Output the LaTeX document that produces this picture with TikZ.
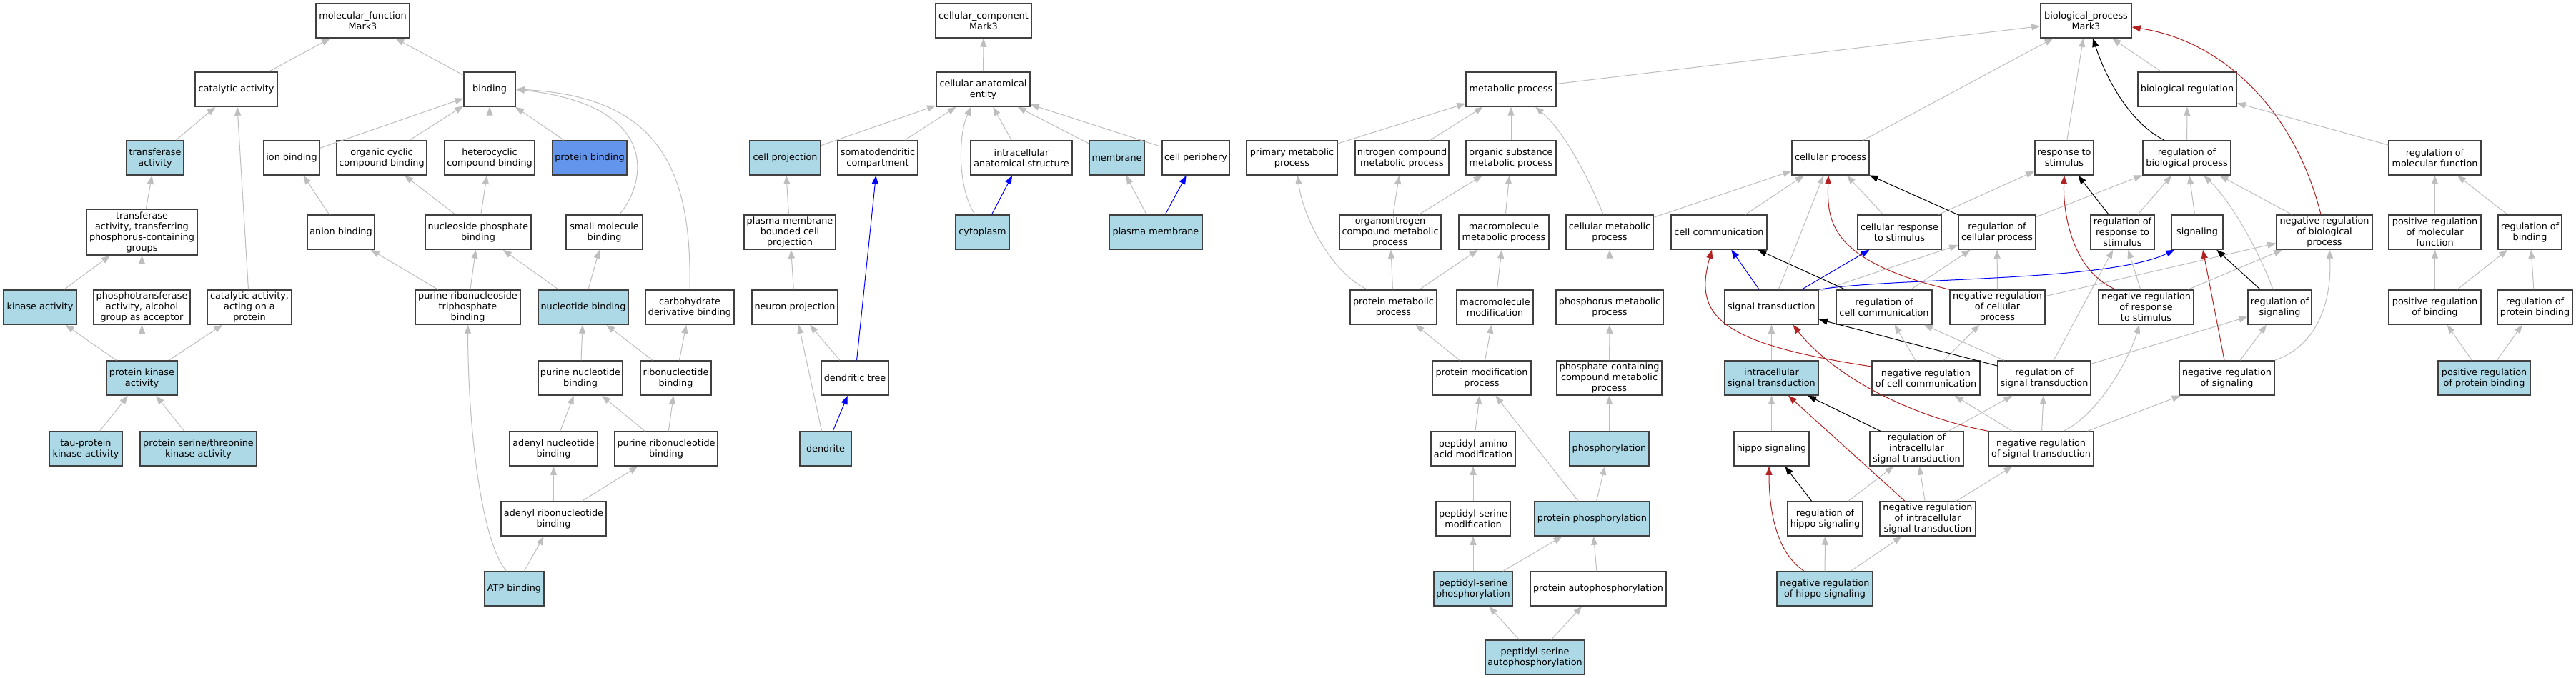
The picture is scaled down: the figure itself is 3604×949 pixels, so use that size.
\documentclass[tikz,border=0pt]{standalone}
\usepackage{fontspec}
\setmainfont{DejaVu Sans}
\usetikzlibrary{arrows.meta}
\definecolor{isagray}{HTML}{BEBEBE}
\definecolor{termblue}{HTML}{ADD8E6}
\definecolor{hitblue}{HTML}{6495ED}
\definecolor{negred}{HTML}{B22222}

\begin{document}
\begin{tikzpicture}[x=1pt, y=-1pt,
    term/.style={draw=black!75, line width=1.5pt, fill=white, inner sep=1pt, align=center,
      minimum height=48, font=\fontsize{12.8}{15}\selectfont},
    hit/.style={term, fill=termblue},
    isa/.style={-{Triangle[length=12pt,width=9pt]}, draw=isagray, line width=1pt},
    partof/.style={isa, draw=blue},
    regul/.style={isa, draw=black},
    negreg/.style={isa, draw=negred}]
    \fill[white] (0,0) rectangle (3604,949);
    \useasboundingbox (0,0) rectangle (3604,949);

    % molecular function
    \node[term, minimum width=131] (mf) at (507.5,29) {molecular\_function\\Mark3};
    \node[term, minimum width=115] (catact) at (330.5,125) {catalytic activity};
    \node[term, minimum width=72] (binding) at (685,125) {binding};
    \node[hit, minimum width=80] (transf) at (217,221) {transferase\\activity};
    \node[term, minimum width=78] (ionb) at (408,221) {ion binding};
    \node[term, minimum width=126] (orgcyc) at (534,221) {organic cyclic\\compound binding};
    \node[term, minimum width=126] (hetcyc) at (685,221) {heterocyclic\\compound binding};
    \node[term, fill=hitblue, minimum width=104] (protb) at (825,221) {protein binding};
    \node[term, minimum width=155, minimum height=64] (transfp) at (198.5,325) {transferase\\activity, transferring\\phosphorus-containing\\groups};
    \node[term, minimum width=94] (anion) at (477,325) {anion binding};
    \node[term, minimum width=148] (nucphos) at (669,325) {nucleoside phosphate\\binding};
    \node[term, minimum width=107] (smallmol) at (845.5,325) {small molecule\\binding};
    \node[hit, minimum width=102] (kinase) at (56,430) {kinase activity};
    \node[term, minimum width=135] (phosph) at (198.5,430) {phosphotransferase\\activity, alcohol\\group as acceptor};
    \node[term, minimum width=118] (catprot) at (349,430) {catalytic activity,\\acting on a\\protein};
    \node[term, minimum width=147] (prnstp) at (654.5,430) {purine ribonucleoside\\triphosphate\\binding};
    \node[hit, minimum width=126] (nucleot) at (816,430) {nucleotide binding};
    \node[term, minimum width=124] (carbo) at (965,430) {carbohydrate\\derivative binding};
    \node[hit, minimum width=99] (pkinase) at (198.5,529) {protein kinase\\activity};
    \node[term, minimum width=118] (purnuc) at (812,529) {purine nucleotide\\binding};
    \node[term, minimum width=99] (ribonuc) at (945.5,529) {ribonucleotide\\binding};
    \node[hit, minimum width=102] (tau) at (120,628) {tau-protein\\kinase activity};
    \node[hit, minimum width=163] (serthr) at (277.5,628) {protein serine/threonine\\kinase activity};
    \node[term, minimum width=123] (adenuc) at (774.5,628) {adenyl nucleotide\\binding};
    \node[term, minimum width=144] (purribo) at (932,628) {purine ribonucleotide\\binding};
    \node[term, minimum width=147] (adenribo) at (774.5,726) {adenyl ribonucleotide\\binding};
    \node[hit, minimum width=83] (atp) at (719.5,824) {ATP binding};

    % cellular component
    \node[term, minimum width=134] (cc) at (1376,29) {cellular\_component\\Mark3};
    \node[term, minimum width=131] (cae) at (1375.5,125) {cellular anatomical\\entity};
    \node[hit, minimum width=99] (cellproj) at (1098.5,221) {cell projection};
    \node[term, minimum width=112] (somato) at (1228,221) {somatodendritic\\compartment};
    \node[term, minimum width=142] (intra) at (1429,221) {intracellular\\anatomical structure};
    \node[hit, minimum width=77] (membrane) at (1562.5,221) {membrane};
    \node[term, minimum width=94] (periph) at (1673,221) {cell periphery};
    \node[term, minimum width=128] (pmbcp) at (1105,325) {plasma membrane\\bounded cell\\projection};
    \node[hit, minimum width=75] (cytopl) at (1374.5,325) {cytoplasm};
    \node[hit, minimum width=130] (plasmem) at (1617,325) {plasma membrane};
    \node[term, minimum width=120] (neuproj) at (1112,430) {neuron projection};
    \node[term, minimum width=94] (dendtree) at (1196,529) {dendritic tree};
    \node[hit, minimum width=72] (dendrite) at (1155,628) {dendrite};

    % biological process
    \node[term, minimum width=127] (bp) at (2918.5,29) {biological\_process\\Mark3};
    \node[term, minimum width=126] (metab) at (2114,125) {metabolic process};
    \node[term, minimum width=138] (bioreg) at (3060,125) {biological regulation};
    \node[term, minimum width=127] (primmet) at (1807.5,221) {primary metabolic\\process};
    \node[term, minimum width=131] (nitro) at (1961.5,221) {nitrogen compound\\metabolic process};
    \node[term, minimum width=126] (orgsub) at (2114,221) {organic substance\\metabolic process};
    \node[term, minimum width=108] (cellproc) at (2561,221) {cellular process};
    \node[term, minimum width=82] (resp) at (2888,221) {response to\\stimulus};
    \node[term, minimum width=123] (regbp) at (3059.5,221) {regulation of\\biological process};
    \node[term, minimum width=129] (regmf) at (3406.5,221) {regulation of\\molecular function};
    \node[term, minimum width=142] (orgnit) at (1945,325) {organonitrogen\\compound metabolic\\process};
    \node[term, minimum width=126] (macromet) at (2104,325) {macromolecule\\metabolic process};
    \node[term, minimum width=122] (cellmet) at (2252,325) {cellular metabolic\\process};
    \node[term, minimum width=134] (cellcomm) at (2405,325) {cell communication};
    \node[term, minimum width=117] (cellresp) at (2657.5,325) {cellular response\\to stimulus};
    \node[term, minimum width=108] (regcp) at (2794,325) {regulation of\\cellular process};
    \node[term, minimum width=89] (regresp) at (2969.5,325) {regulation of\\response to\\stimulus};
    \node[term, minimum width=72] (signaling) at (3074,325) {signaling};
    \node[term, minimum width=134] (negbp) at (3252,325) {negative regulation\\of biological\\process};
    \node[term, minimum width=129] (posmf) at (3406.5,325) {positive regulation\\of molecular\\function};
    \node[term, minimum width=89] (regbind) at (3539.5,325) {regulation of\\binding};
    \node[term, minimum width=121] (protmet) at (1949.5,430) {protein metabolic\\process};
    \node[term, minimum width=107] (macromod) at (2091.5,430) {macromolecule\\modification};
    \node[term, minimum width=150] (phosmet) at (2252,430) {phosphorus metabolic\\process};
    \node[term, minimum width=131] (sigtrans) at (2478.5,430) {signal transduction};
    \node[term, minimum width=134] (regcomm) at (2636,430) {regulation of\\cell communication};
    \node[term, minimum width=133] (negcp) at (2794.5,430) {negative regulation\\of cellular\\process};
    \node[term, minimum width=133] (negresp) at (3002.5,430) {negative regulation\\of response\\to stimulus};
    \node[term, minimum width=89] (regsig) at (3189.5,430) {regulation of\\signaling};
    \node[term, minimum width=129] (posbind) at (3406.5,430) {positive regulation\\of binding};
    \node[term, minimum width=105] (regprotb) at (3546.5,430) {regulation of\\protein binding};
    \node[term, minimum width=138] (protmod) at (2073,529) {protein modification\\process};
    \node[term, minimum width=147] (phoscont) at (2251.5,529) {phosphate-containing\\compound metabolic\\process};
    \node[hit, minimum width=131] (intrasig) at (2478.5,529) {intracellular\\signal transduction};
    \node[term, minimum width=151] (negcomm) at (2694.5,529) {negative regulation\\of cell communication};
    \node[term, minimum width=130] (regst) at (2860,529) {regulation of\\signal transduction};
    \node[term, minimum width=133] (negsig) at (3115.5,529) {negative regulation\\of signaling};
    \node[hit, minimum width=129] (posprotb) at (3475.5,529) {positive regulation\\of protein binding};
    \node[term, minimum width=118] (pepaa) at (2061,628) {peptidyl-amino\\acid modification};
    \node[hit, minimum width=111] (phosph2) at (2251.5,628) {phosphorylation};
    \node[term, minimum width=105] (hippo) at (2478.5,628) {hippo signaling};
    \node[term, minimum width=131] (regintra) at (2681.5,628) {regulation of\\intracellular\\signal transduction};
    \node[term, minimum width=147] (negst) at (2855.5,628) {negative regulation\\of signal transduction};
    \node[term, minimum width=104] (pepser) at (2061,726) {peptidyl-serine\\modification};
    \node[hit, minimum width=161] (protphos) at (2227.5,726) {protein phosphorylation};
    \node[term, minimum width=105] (reghippo) at (2553.5,726) {regulation of\\hippo signaling};
    \node[term, minimum width=134] (negintra) at (2697,726) {negative regulation\\of intracellular\\signal transduction};
    \node[hit, minimum width=110] (pepserph) at (2061,824) {peptidyl-serine\\phosphorylation};
    \node[term, minimum width=190] (autoph) at (2236,824) {protein autophosphorylation};
    \node[hit, minimum width=134] (neghippo) at (2553,824) {negative regulation\\of hippo signaling};
    \node[hit, minimum width=139] (pepserauto) at (2147.5,920) {peptidyl-serine\\autophosphorylation};

    % molecular function edges
    \draw[isa] (catact) -- (mf);
    \draw[isa] (binding) -- (mf);
    \draw[isa] (transf) -- (catact);
    \draw[isa] (catprot) -- (catact);
    \draw[isa] (transfp) -- (transf);
    \draw[isa] (kinase) -- (transfp);
    \draw[isa] (phosph) -- (transfp);
    \draw[isa] (pkinase) -- (kinase);
    \draw[isa] (pkinase) -- (phosph);
    \draw[isa] (pkinase) -- (catprot);
    \draw[isa] (tau) -- (pkinase);
    \draw[isa] (serthr) -- (pkinase);
    \draw[isa] (ionb) -- (binding);
    \draw[isa] (orgcyc) -- (binding);
    \draw[isa] (hetcyc) -- (binding);
    \draw[isa] (protb) -- (binding);
    \draw[isa] ([xshift=21pt]smallmol.north) .. controls (905,255) and (925,148) .. (binding.east);
    \draw[isa] (carbo.north) .. controls (968,240) and (925,135) .. (binding.east);
    \draw[isa] (anion) -- (ionb);
    \draw[isa] (prnstp) -- (anion);
    \draw[isa] (nucphos) -- (orgcyc);
    \draw[isa] (nucphos) -- (hetcyc);
    \draw[isa] (prnstp) -- (nucphos);
    \draw[isa] (nucleot) -- (nucphos);
    \draw[isa] (nucleot) -- (smallmol);
    \draw[isa] (purnuc) -- (nucleot);
    \draw[isa] (ribonuc) -- (nucleot);
    \draw[isa] (ribonuc) -- (carbo);
    \draw[isa] (adenuc) -- (purnuc);
    \draw[isa] (purribo) -- (purnuc);
    \draw[isa] (purribo) -- (ribonuc);
    \draw[isa] (adenribo) -- (adenuc);
    \draw[isa] (adenribo) -- (purribo);
    \draw[isa] (atp) -- (adenribo);
    \draw[isa] ([xshift=-11pt]atp.north) .. controls (675,760) and (655,610) .. (prnstp.south);

    % cellular component edges
    \draw[isa] (cae) -- (cc);
    \draw[isa] (cellproj) -- (cae);
    \draw[isa] (somato) -- (cae);
    \draw[isa] ([xshift=-10.5pt]cytopl.north) .. controls (1340,265) and (1340,190) .. ([xshift=-17pt]cae.south);
    \draw[isa] (intra) -- (cae);
    \draw[isa] (membrane) -- (cae);
    \draw[isa] (periph) -- (cae);
    \draw[isa] (pmbcp) -- (cellproj);
    \draw[isa] (neuproj) -- (pmbcp);
    \draw[isa] (dendtree) -- (neuproj);
    \draw[isa] (dendrite) -- (neuproj);
    \draw[isa] (plasmem) -- (membrane);
    \draw[partof] (cytopl) -- (intra);
    \draw[partof] (plasmem) -- (periph);
    \draw[partof] (dendtree) -- (somato);
    \draw[partof] (dendrite) -- (dendtree);

    % biological process edges
    \draw[isa] (metab) -- (bp);
    \draw[isa] (cellproc) -- (bp);
    \draw[isa] (resp) -- (bp);
    \draw[isa] (bioreg) -- (bp);
    \draw[isa] (primmet) -- (metab);
    \draw[isa] (nitro) -- (metab);
    \draw[isa] (orgsub) -- (metab);
    \draw[isa] ([xshift=-9pt]cellmet.north) .. controls (2225,255) and (2190,185) .. ([xshift=34pt]metab.south);
    \draw[isa] (cellmet) -- (cellproc);
    \draw[isa] (orgnit) -- (nitro);
    \draw[isa] (orgnit) -- (orgsub);
    \draw[isa] (macromet) -- (orgsub);
    \draw[isa] ([xshift=-36.5pt]protmet.north) .. controls (1860,380) and (1822,300) .. ([xshift=8pt]primmet.south);
    \draw[isa] (protmet) -- (orgnit);
    \draw[isa] (protmet) -- (macromet);
    \draw[isa] (macromod) -- (macromet);
    \draw[isa] (phosmet) -- (cellmet);
    \draw[isa] (protmod) -- (protmet);
    \draw[isa] (protmod) -- (macromod);
    \draw[isa] (phoscont) -- (phosmet);
    \draw[isa] (pepaa) -- (protmod);
    \draw[isa] (phosph2) -- (phoscont);
    \draw[isa] (pepser) -- (pepaa);
    \draw[isa] (protphos) -- (protmod);
    \draw[isa] (protphos) -- (phosph2);
    \draw[isa] (pepserph) -- (pepser);
    \draw[isa] (pepserph) -- (protphos);
    \draw[isa] (autoph) -- (protphos);
    \draw[isa] (pepserauto) -- (pepserph);
    \draw[isa] (pepserauto) -- (autoph);
    \draw[isa] (cellcomm) -- (cellproc);
    \draw[isa] (sigtrans) -- (cellproc);
    \draw[isa] (cellresp) -- (cellproc);
    \draw[isa] (sigtrans) -- (regcp);
    \draw[isa] (regcomm) -- (regcp);
    \draw[isa] (negcp) -- (regcp);
    \draw[isa] (cellresp) -- (resp);
    \draw[isa] (regcp) -- (regbp);
    \draw[isa] (regresp) -- (regbp);
    \draw[isa] (signaling) -- (regbp);
    \draw[isa] ([xshift=-9.5pt]regsig.north) .. controls (3160,350) and (3120,280) .. ([xshift=23.5pt]regbp.south);
    \draw[isa] (negbp) -- (regbp);
    \draw[isa] (regbp) -- (bioreg);
    \draw[isa] (regmf) -- (bioreg);
    \draw[isa] (intrasig) -- (sigtrans);
    \draw[isa] (hippo) -- (intrasig);
    \draw[isa] (negcomm) -- (regcomm);
    \draw[isa] (negcomm) -- (negcp);
    \draw[isa] (regst) -- (regcomm);
    \draw[isa] (regst) -- (regresp);
    \draw[isa] (regst) -- (regsig);
    \draw[isa] (negst) -- (negcomm);
    \draw[isa] (negst) -- (regst);
    \draw[isa] ([xshift=31.5pt]negst.north) .. controls (2935,580) and (2978,505) .. ([xshift=-9.5pt]negresp.south);
    \draw[isa] (negst) -- (negsig);
    \draw[isa] (negresp) -- (regresp);
    \draw[isa] (negresp) -- (negbp);
    \draw[isa] (negcp) -- (negbp);
    \draw[isa] (negsig) -- (regsig);
    \draw[isa] (negsig.north east) .. controls (3250,480) and (3262,410) .. ([xshift=7pt]negbp.south);
    \draw[isa] (regintra) -- (regst);
    \draw[isa] (negintra) -- (regintra);
    \draw[isa] (negintra) -- (negst);
    \draw[isa] (reghippo) -- (regintra);
    \draw[isa] (neghippo) -- (reghippo);
    \draw[isa] (neghippo) -- (negintra);
    \draw[isa] (posmf) -- (regmf);
    \draw[isa] (regbind) -- (regmf);
    \draw[isa] (posbind) -- (posmf);
    \draw[isa] (posbind) -- (regbind);
    \draw[isa] (regprotb) -- (regbind);
    \draw[isa] (posprotb) -- (posbind);
    \draw[isa] (posprotb) -- (regprotb);

    \draw[partof] (sigtrans) -- (cellcomm);
    \draw[partof] (sigtrans) -- (cellresp);
    \draw[partof] (sigtrans.north east) .. controls (2650,388) and (2950,395) .. ([xshift=5pt]signaling.south west);

    \draw[regul] ([xshift=-31.5pt]regbp.north) .. controls (2985,175) and (2950,120) .. ([xshift=9.5pt]bp.south);
    \draw[regul] (regcp) -- (cellproc);
    \draw[regul] (regcomm) -- (cellcomm);
    \draw[regul] (regst) -- (sigtrans);
    \draw[regul] (regintra) -- (intrasig);
    \draw[regul] (reghippo) -- (hippo);
    \draw[regul] (regresp) -- (resp);
    \draw[regul] (regsig) -- (signaling);

    \draw[negreg] ([xshift=-5pt]negbp.north) .. controls (3212,160) and (3115,58) .. ([yshift=-9pt]bp.east);
    \draw[negreg] (negcp.north west) .. controls (2560,365) and (2556,310) .. ([xshift=-3pt]cellproc.south);
    \draw[negreg] ([yshift=16pt]negcomm.west) .. controls (2400,480) and (2370,440) .. ([xshift=-10pt]cellcomm.south);
    \draw[negreg] (negst.north west) .. controls (2660,580) and (2560,520) .. ([xshift=30pt]sigtrans.south);
    \draw[negreg] ([xshift=-32pt]negintra.north) -- ([xshift=23.5pt]intrasig.south);
    \draw[negreg] ([xshift=-29pt]neghippo.north) .. controls (2480,770) and (2475,700) .. ([xshift=-3.5pt]hippo.south);
    \draw[negreg] ([xshift=-42.5pt]negresp.north) .. controls (2900,380) and (2886,300) .. (resp.south);
    \draw[negreg] ([xshift=-3.5pt]negsig.north) -- ([xshift=8pt]signaling.south);
\end{tikzpicture}
\end{document}
